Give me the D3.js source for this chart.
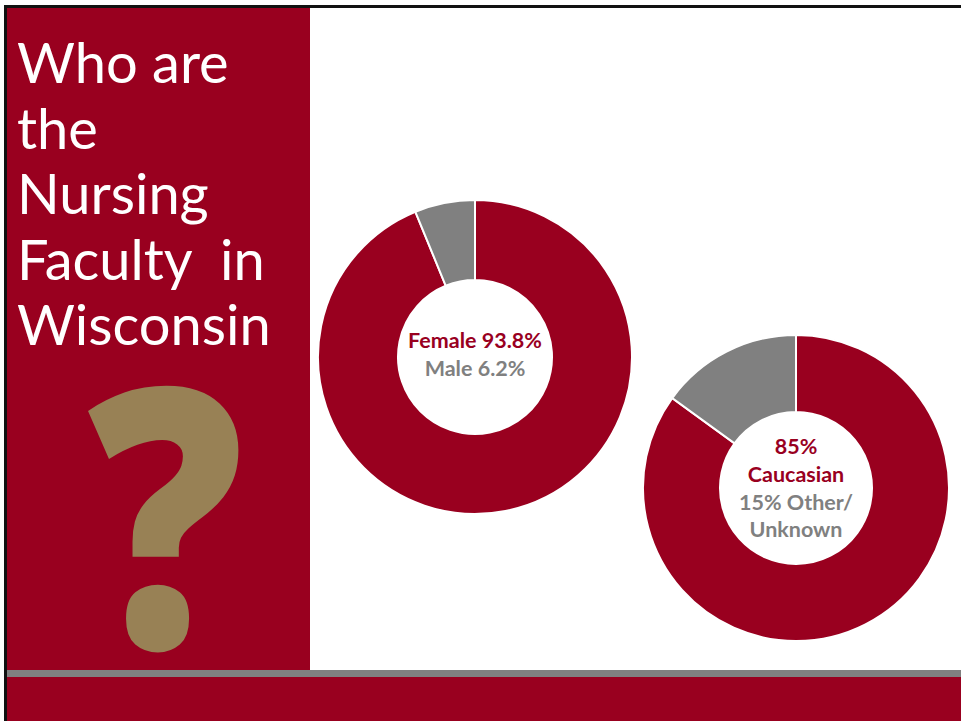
<!DOCTYPE html>
<html>
<head>
<meta charset="utf-8">
<script src="https://cdn.jsdelivr.net/npm/d3@7"></script>
<style>
  body { margin: 0; background: #fff; }
  svg { display: block; }
</style>
</head>
<body>
<div id="chart"></div>
<script>
const W = 961, H = 721;
const red = "#99001f", grey = "#808080", gold = "#988155";

// data
const titleLines = ["Who are", "the", "Nursing", "Faculty  in", "Wisconsin"];
const genderLabels = ["Female", "Male"];
const genderValues = [93.8, 6.2];
const raceLabels = ["Caucasian", "Other/ Unknown"];
const raceValues = [85, 15];

const svg = d3.select("#chart").append("svg").attr("width", W).attr("height", H);

// slide frame
svg.append("rect").attr("x", 5).attr("y", 5).attr("width", W).attr("height", 3).attr("fill", "#111");
svg.append("rect").attr("x", 4).attr("y", 5).attr("width", 3).attr("height", H).attr("fill", "#111");

// left panel
svg.append("rect").attr("x", 7).attr("y", 8).attr("width", 303).attr("height", 664).attr("fill", red);

// bottom bars
svg.append("rect").attr("x", 7).attr("y", 670).attr("width", W).attr("height", 7).attr("fill", grey);
svg.append("rect").attr("x", 7).attr("y", 677).attr("width", W).attr("height", H - 677).attr("fill", red);

// title
svg.append("g").selectAll("text").data(titleLines).join("text")
  .attr("x", 17)
  .attr("y", (d, i) => 83 + i * 65.5)
  .attr("fill", "#fff")
  .attr("font-family", "Lato, 'Open Sans', sans-serif")
  .attr("font-weight", 400)
  .attr("font-size", 56)
  .style("white-space", "pre")
  .text(d => d);

// question mark
svg.append("text")
  .attr("transform", "translate(166,648) scale(0.87,1.02)")
  .attr("text-anchor", "middle")
  .attr("fill", gold)
  .attr("font-family", "'Open Sans', sans-serif")
  .attr("font-weight", 800)
  .attr("font-size", 355)
  .text("?");

const pie = d3.pie().sort(null).value(d => d);

function donut(values, cx, cy, r0, r1) {
  const arc = d3.arc().innerRadius(r0).outerRadius(r1);
  const g = svg.append("g").attr("transform", `translate(${cx},${cy})`);
  g.selectAll("path").data(pie(values)).join("path")
    .attr("d", arc)
    .attr("fill", (d, i) => i === 0 ? red : grey)
    .attr("stroke", "#fff")
    .attr("stroke-width", 2);
  return g;
}

const labelFont = "Lato, 'Open Sans', sans-serif";

const g1 = donut(genderValues, 475, 357, 77, 157);
g1.append("text").attr("y", -9).attr("text-anchor", "middle")
  .attr("font-family", labelFont).attr("font-weight", 700).attr("font-size", 21.5)
  .attr("fill", red).text(`${genderLabels[0]} ${genderValues[0]}%`);
g1.append("text").attr("y", 19).attr("text-anchor", "middle")
  .attr("font-family", labelFont).attr("font-weight", 700).attr("font-size", 21.5)
  .attr("fill", grey).text(`${genderLabels[1]} ${genderValues[1]}%`);

const g2 = donut(raceValues, 796, 488, 76, 153);
const lines2 = [
  { t: `${raceValues[0]}%`, c: red },
  { t: raceLabels[0], c: red },
  { t: `${raceValues[1]}% ${raceLabels[1].split(" ")[0]}`, c: grey },
  { t: raceLabels[1].split(" ")[1], c: grey }
];
g2.selectAll("text.l").data(lines2).join("text")
  .attr("class", "l")
  .attr("y", (d, i) => -34 + i * 27.8)
  .attr("text-anchor", "middle")
  .attr("font-family", labelFont).attr("font-weight", 700).attr("font-size", 21.5)
  .attr("fill", d => d.c)
  .text(d => d.t);
</script>
</body>
</html>
